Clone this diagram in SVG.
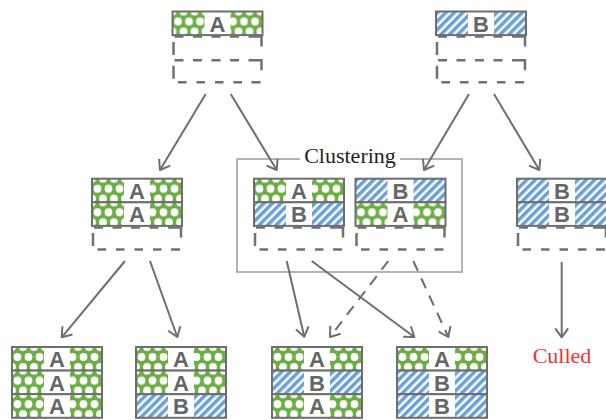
<svg xmlns="http://www.w3.org/2000/svg" xmlns:xlink="http://www.w3.org/1999/xlink" width="606" height="420" viewBox="0 0 606 420">
<style>
.lt{font-family:"Liberation Sans",Arial,sans-serif;font-size:22px;font-weight:bold;fill:#666;text-anchor:middle}
.bd{fill:none;stroke:#6e6e6e;stroke-width:2}
.dash{fill:none;stroke:#707070;stroke-width:2.5}
.ar{fill:none;stroke:#6e6e6e;stroke-width:2;marker-end:url(#ah)}
.ard{stroke-dasharray:11 8}
.ser{font-family:"Liberation Serif","Times New Roman",serif;font-size:22px}
</style>
<defs>
<pattern id="dots" patternUnits="userSpaceOnUse" width="11" height="20">
<rect width="11" height="20" fill="#6cae45"/>
<circle cx="0" cy="0" r="3.9" fill="#fff"/><circle cx="11" cy="0" r="3.9" fill="#fff"/>
<circle cx="0" cy="20" r="3.9" fill="#fff"/><circle cx="11" cy="20" r="3.9" fill="#fff"/>
<circle cx="5.5" cy="10" r="3.9" fill="#fff"/>
</pattern>
<pattern id="stripes" patternUnits="userSpaceOnUse" width="6" height="6" patternTransform="rotate(45)">
<rect width="6" height="6" fill="#fff"/>
<rect width="3.5" height="6" fill="#6a9fd8"/>
</pattern>
<g id="rowA">
<rect width="90" height="23.6" fill="url(#dots)"/>
<rect x="32" width="26" height="23.6" fill="#fff"/>
<text class="lt" x="45" y="20" font-family="Liberation Sans, Arial, sans-serif" font-size="22" font-weight="bold" fill="#666" text-anchor="middle">A</text>
<rect width="90" height="23.6" class="bd"/>
</g>
<g id="rowB">
<rect width="90" height="23.6" fill="url(#stripes)"/>
<rect x="32" width="26" height="23.6" fill="#fff"/>
<text class="lt" x="45" y="20" font-family="Liberation Sans, Arial, sans-serif" font-size="22" font-weight="bold" fill="#666" text-anchor="middle">B</text>
<rect width="90" height="23.6" class="bd"/>
</g>
<path id="rowE" class="dash" d="M2,1.5h9 M20.5,1.5h9 M39,1.5h9 M57.5,1.5h9 M76,1.5h13v10 M1,7v13"/>
<path id="botE" class="dash" d="M5.5,0h8.5 M24,0h8.5 M42.5,0h8.5 M61,0h8.5 M79,0h9"/>
<marker id="ah" markerUnits="userSpaceOnUse" markerWidth="24" markerHeight="24" viewBox="-12 -12 24 24" refX="0" refY="0" orient="auto">
<path d="M-9,-6.5 L0,0 L-9,6.5" fill="none" stroke="#6e6e6e" stroke-width="2" stroke-linejoin="round"/>
</marker>
</defs>
<rect width="606" height="420" fill="#fff"/>

<g id="cluster">
<rect x="237" y="159" width="225" height="113" fill="none" stroke="#b3b3b3" stroke-width="2"/>
<rect x="300" y="150" width="100" height="16" fill="#fff"/>
<text class="ser" x="350" y="163" text-anchor="middle" fill="#222">Clustering</text>
</g>

<g id="topA" transform="translate(172.5,11.5)">
<use xlink:href="#rowA"/>
<use xlink:href="#rowE" y="23.6"/>
<use xlink:href="#rowE" y="47.2"/>
<use xlink:href="#botE" y="70.8"/>
</g>
<g id="topB" transform="translate(436,11.5)">
<use xlink:href="#rowB"/>
<use xlink:href="#rowE" y="23.6"/>
<use xlink:href="#rowE" y="47.2"/>
<use xlink:href="#botE" y="70.8"/>
</g>
<g id="midAA" transform="translate(92,178.7)">
<use xlink:href="#rowA"/>
<use xlink:href="#rowA" y="23.6"/>
<use xlink:href="#rowE" y="47.2"/>
<use xlink:href="#botE" y="70.8"/>
</g>
<g id="midAB" transform="translate(254,178.7)">
<use xlink:href="#rowA"/>
<use xlink:href="#rowB" y="23.6"/>
<use xlink:href="#rowE" y="47.2"/>
<use xlink:href="#botE" y="70.8"/>
</g>
<g id="midBA" transform="translate(355.5,178.7)">
<use xlink:href="#rowB"/>
<use xlink:href="#rowA" y="23.6"/>
<use xlink:href="#rowE" y="47.2"/>
<use xlink:href="#botE" y="70.8"/>
</g>
<g id="midBB" transform="translate(517,178.7)">
<use xlink:href="#rowB"/>
<use xlink:href="#rowB" y="23.6"/>
<use xlink:href="#rowE" y="47.2"/>
<use xlink:href="#botE" y="70.8"/>
</g>
<g id="botAAA" transform="translate(12,347)">
<use xlink:href="#rowA"/>
<use xlink:href="#rowA" y="23.6"/>
<use xlink:href="#rowA" y="47.2"/>
</g>
<g id="botAAB" transform="translate(136,347)">
<use xlink:href="#rowA"/>
<use xlink:href="#rowA" y="23.6"/>
<use xlink:href="#rowB" y="47.2"/>
</g>
<g id="botABA" transform="translate(272,347)">
<use xlink:href="#rowA"/>
<use xlink:href="#rowB" y="23.6"/>
<use xlink:href="#rowA" y="47.2"/>
</g>
<g id="botABB" transform="translate(397,347)">
<use xlink:href="#rowA"/>
<use xlink:href="#rowB" y="23.6"/>
<use xlink:href="#rowB" y="47.2"/>
</g>
<g id="culled">
<text class="ser" x="562" y="363" text-anchor="middle" fill="#ee3333" font-size="21.5">Culled</text>
</g>

<g id="connectors">
<line class="ar" x1="205.7" y1="94" x2="160" y2="170"/>
<line class="ar" x1="230.7" y1="94" x2="276.7" y2="170"/>
<line class="ar" x1="469" y1="94" x2="424" y2="170"/>
<line class="ar" x1="494" y1="94" x2="539.3" y2="170"/>
<line class="ar" x1="125" y1="261" x2="61.7" y2="337.3"/>
<line class="ar" x1="150" y1="261" x2="177.3" y2="337"/>
<line class="ar" x1="286.7" y1="261" x2="304.3" y2="336.7"/>
<line class="ar" x1="311.7" y1="261" x2="414.3" y2="337"/>
<line class="ar ard" x1="388.3" y1="261" x2="330" y2="337"/>
<line class="ar ard" x1="413.3" y1="261" x2="448.3" y2="337"/>
<line class="ar" x1="561.7" y1="262" x2="561.7" y2="337.3"/>
</g>
</svg>
